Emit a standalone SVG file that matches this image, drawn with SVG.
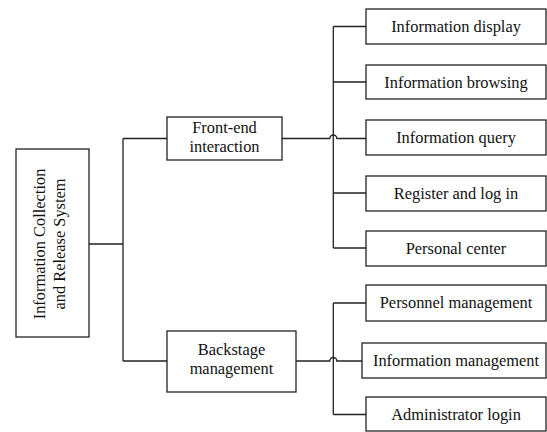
<svg xmlns="http://www.w3.org/2000/svg" width="547" height="432" viewBox="0 0 547 432">
<style>
rect{fill:#fff;stroke:#222;stroke-width:1.3}
text{font-family:"Liberation Serif","Times New Roman",serif;font-size:16.4px;fill:#111;text-anchor:middle}
.c{fill:none;stroke:#222;stroke-width:1.3}
</style>
<rect x="0" y="0" width="547" height="432" style="fill:#fff;stroke:none"/>
<g id="connectors">
<path class="c" d="M89,244 H123 M123,138.5 V361 M123,138.5 H167 M123,361 H167"/>
<path class="c" d="M333.3,26.5 V248 M333.3,26.5 H366 M333.3,82 H366 M333.3,193 H366 M333.3,248 H366"/>
<path class="c" d="M282,138.5 H329.8 A3.5,3.5 0 0 1 336.8,138.5 H366"/>
<path class="c" d="M333.3,303 V414.5 M333.3,303 H366 M333.3,414.5 H366"/>
<path class="c" d="M296,361 H329.8 A3.5,3.5 0 0 1 336.8,361 H362"/>
</g>
<g id="root">
<rect x="16" y="149" width="73" height="188"/>
<text transform="translate(45,244) rotate(-90)">Information Collection</text>
<text transform="translate(65,244) rotate(-90)">and Release System</text>
</g>
<g id="frontend">
<rect x="167" y="117" width="115" height="43"/>
<text x="224.5" y="133">Front-end</text>
<text x="224.5" y="152">interaction</text>
</g>
<g id="backstage">
<rect x="167" y="331" width="129" height="61"/>
<text x="231.5" y="355">Backstage</text>
<text x="231.5" y="374">management</text>
</g>
<g id="display">
<rect x="366" y="9" width="180" height="35"/>
<text x="456" y="32">Information display</text>
</g>
<g id="browsing">
<rect x="366" y="65" width="180" height="34"/>
<text x="456" y="88">Information browsing</text>
</g>
<g id="query">
<rect x="366" y="120" width="180" height="35"/>
<text x="456" y="143">Information query</text>
</g>
<g id="register">
<rect x="366" y="176" width="180" height="35"/>
<text x="456" y="199">Register and log in</text>
</g>
<g id="personal">
<rect x="366" y="231" width="180" height="35"/>
<text x="456" y="254">Personal center</text>
</g>
<g id="personnel">
<rect x="366" y="285" width="180" height="36"/>
<text x="456" y="308">Personnel management</text>
</g>
<g id="infomgmt">
<rect x="362" y="343" width="184" height="35"/>
<text x="456" y="366">Information management</text>
</g>
<g id="admin">
<rect x="366" y="397" width="180" height="34"/>
<text x="456" y="420">Administrator login</text>
</g>
</svg>
